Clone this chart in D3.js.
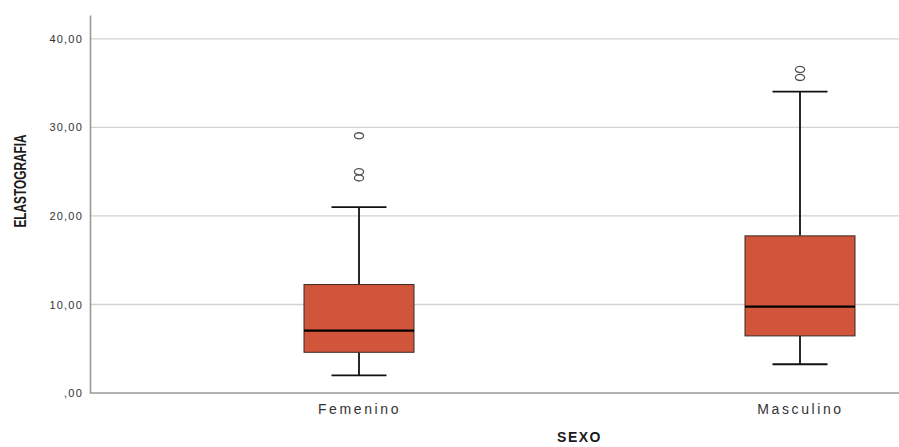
<!DOCTYPE html>
<html>
<head>
<meta charset="utf-8">
<script src="https://cdn.jsdelivr.net/npm/d3@7"></script>
<style>
  html, body { margin: 0; padding: 0; background: #fff; }
  svg { display: block; }
  .tick-label { font-family: "Liberation Sans", Arial, sans-serif; fill: #333; }
</style>
</head>
<body>
<svg id="chart" width="899" height="447"></svg>
<script>
const categories = ['Femenino', 'Masculino'];
const whiskerLow = [2.0, 3.25];
const q1 = [4.6, 6.45];
const median = [7.05, 9.75];
const q3 = [12.25, 17.75];
const whiskerHigh = [21.0, 34.05];
const outliers = [[24.3, 25.0, 29.05], [35.65, 36.55]];
const yTicks = [0, 10, 20, 30, 40];
const yExtent = [0, 42.7];

const WIDTH = 899;
const PLOT_LEFT = 90;
const PLOT_BOTTOM = 393;
const PLOT_TOP = 15;
const BOX_WIDTH = 110;
const CAP_WIDTH = 55;
const BOX_FILL = '#d1553a';

const boxes = categories.map((name, i) => ({
  name,
  lo: whiskerLow[i],
  q1: q1[i],
  med: median[i],
  q3: q3[i],
  hi: whiskerHigh[i],
  outliers: outliers[i]
}));

const svg = d3.select('#chart');

const y = d3.scaleLinear().domain(yExtent).range([PLOT_BOTTOM, PLOT_TOP]);
const x = d3.scalePoint().domain(categories).range([359, 800]);

function tickText(d) {
  const s = d.toFixed(2).replace('.', ',');
  return d === 0 ? s.slice(1) : s;
}

// gridlines
svg.append('g')
  .selectAll('line')
  .data(yTicks.filter((d) => d > 0))
  .join('line')
  .attr('x1', PLOT_LEFT)
  .attr('x2', WIDTH)
  .attr('y1', (d) => y(d))
  .attr('y2', (d) => y(d))
  .attr('stroke', '#d2d2d2')
  .attr('stroke-width', 1.3);

// y axis
const yAxis = d3.axisLeft(y).tickValues(yTicks).tickSize(0).tickPadding(7).tickFormat(tickText);
const yAxisG = svg.append('g').attr('transform', `translate(${PLOT_LEFT},0)`).call(yAxis);
yAxisG.select('.domain').attr('stroke', '#999').attr('stroke-width', 1.6);
yAxisG.selectAll('.tick text')
  .attr('class', 'tick-label')
  .style('font-size', '11px')
  .style('letter-spacing', '1.2px')
  .attr('fill', '#333');

// x axis
const xAxis = d3.axisBottom(x).tickSize(0).tickPadding(11);
const xAxisG = svg.append('g').attr('transform', `translate(0,${PLOT_BOTTOM})`).call(xAxis);
xAxisG.select('.domain').remove();
xAxisG.append('line')
  .attr('x1', PLOT_LEFT)
  .attr('x2', WIDTH)
  .attr('stroke', '#999')
  .attr('stroke-width', 1.6);
xAxisG.selectAll('.tick text')
  .attr('class', 'tick-label')
  .style('font-size', '14px')
  .style('letter-spacing', '2.6px')
  .attr('fill', '#333');

// boxes
const g = svg.append('g')
  .selectAll('g')
  .data(boxes)
  .join('g')
  .attr('transform', (d) => `translate(${x(d.name)},0)`);

g.append('line')
  .attr('y1', (d) => y(d.lo))
  .attr('y2', (d) => y(d.q1))
  .attr('stroke', '#111')
  .attr('stroke-width', 1.8);

g.append('line')
  .attr('y1', (d) => y(d.q3))
  .attr('y2', (d) => y(d.hi))
  .attr('stroke', '#111')
  .attr('stroke-width', 1.8);

g.selectAll('.cap')
  .data((d) => [d.lo, d.hi])
  .join('line')
  .attr('class', 'cap')
  .attr('x1', -CAP_WIDTH / 2)
  .attr('x2', CAP_WIDTH / 2)
  .attr('y1', (v) => y(v))
  .attr('y2', (v) => y(v))
  .attr('stroke', '#111')
  .attr('stroke-width', 1.8);

g.append('rect')
  .attr('x', -BOX_WIDTH / 2)
  .attr('width', BOX_WIDTH)
  .attr('y', (d) => y(d.q3))
  .attr('height', (d) => y(d.q1) - y(d.q3))
  .attr('fill', BOX_FILL)
  .attr('stroke', '#3a2a25')
  .attr('stroke-width', 1);

g.append('line')
  .attr('x1', -BOX_WIDTH / 2)
  .attr('x2', BOX_WIDTH / 2)
  .attr('y1', (d) => y(d.med))
  .attr('y2', (d) => y(d.med))
  .attr('stroke', '#000')
  .attr('stroke-width', 2.2);

g.selectAll('ellipse')
  .data((d) => d.outliers)
  .join('ellipse')
  .attr('cx', 0)
  .attr('cy', (v) => y(v))
  .attr('rx', 4.6)
  .attr('ry', 3.1)
  .attr('fill', 'none')
  .attr('stroke', '#555')
  .attr('stroke-width', 1.3);

// axis titles
svg.append('text')
  .attr('transform', 'translate(26,181) rotate(-90) scale(0.74,1)')
  .attr('text-anchor', 'middle')
  .style('font-family', '"Liberation Sans", Arial, sans-serif')
  .style('font-weight', 'bold')
  .style('font-size', '16px')
  .attr('fill', '#1a1a1a')
  .text('ELASTOGRAFIA');

svg.append('text')
  .attr('x', (x(categories[0]) + x(categories[1])) / 2)
  .attr('y', 442)
  .attr('text-anchor', 'middle')
  .style('font-family', '"Liberation Sans", Arial, sans-serif')
  .style('font-weight', 'bold')
  .style('font-size', '14px')
  .style('letter-spacing', '1.5px')
  .attr('fill', '#1a1a1a')
  .text('SEXO');
</script>
</body>
</html>
